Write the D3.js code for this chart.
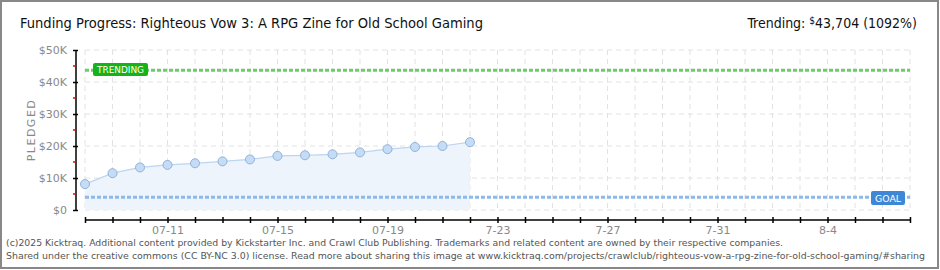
<!DOCTYPE html>
<html lang="en">
<head>
  <meta charset="UTF-8">
  <title>Funding Progress</title>
  <script src="https://d3js.org/d3.v7.min.js"></script>
  <style>
    body { margin: 0; background: #fff; }
    svg { display: block; }
    .title { font-family: "DejaVu Sans Condensed", sans-serif; font-size: 14px; fill: #111; }
    .axis-label { font-family: "DejaVu Sans", sans-serif; font-size: 11px; fill: #888; }
    .foot { font-family: "DejaVu Sans Condensed", sans-serif; font-size: 9px; fill: #555; }
  </style>
</head>
<body>
<svg width="940" height="270"></svg>

<script>
  // days and pledged totals
  const days = ["2025-07-08", "2025-07-09", "2025-07-10", "2025-07-11", "2025-07-12",
                "2025-07-13", "2025-07-14", "2025-07-15", "2025-07-16", "2025-07-17",
                "2025-07-18", "2025-07-19", "2025-07-20", "2025-07-21", "2025-07-22"];
  const pledged = [8100, 11500, 13300, 14100, 14600, 15200, 15800, 16900, 17100, 17400,
                   18000, 19000, 19700, 20000, 21200];
  const goal = 4000;
  const trending = 43704;
  const yTicks = [0, 10000, 20000, 30000, 40000, 50000];
  const xTickDays = ["2025-07-11", "2025-07-15", "2025-07-19", "2025-07-23",
                     "2025-07-27", "2025-07-31", "2025-08-04"];
  const xTickLabels = ["07-11", "07-15", "07-19", "7-23", "7-27", "7-31", "8-4"];

  const parse = d3.timeParse("%Y-%m-%d");
  const svg = d3.select("svg");

  // outer frame
  svg.append("rect")
    .attr("x", 1).attr("y", 1).attr("width", 937).attr("height", 267)
    .attr("fill", "none").attr("stroke", "#888").attr("stroke-width", 2);

  const x = d3.scaleTime()
    .domain([parse("2025-07-08"), parse("2025-08-07")])
    .range([85, 910]);
  const y = d3.scaleLinear().domain([0, 50000]).range([210, 50]);

  // grid
  const allDays = d3.timeDay.range(parse("2025-07-08"), d3.timeDay.offset(parse("2025-08-07"), 1));
  svg.append("g").selectAll("line").data(allDays).join("line")
    .attr("x1", d => x(d)).attr("x2", d => x(d))
    .attr("y1", 50).attr("y2", 210)
    .attr("stroke", "#e2e2e2").attr("stroke-dasharray", "5,4");
  svg.append("g").selectAll("line").data(yTicks).join("line")
    .attr("x1", 85).attr("x2", 910)
    .attr("y1", d => y(d)).attr("y2", d => y(d))
    .attr("stroke", "#e2e2e2").attr("stroke-dasharray", "5,4");

  const pts = days.map((d, i) => ({ date: parse(d), value: pledged[i] }));

  // area + line
  svg.append("path").datum(pts)
    .attr("fill", "#edf4fc")
    .attr("d", d3.area().x(d => x(d.date)).y0(y(0)).y1(d => y(d.value)));
  svg.append("path").datum(pts)
    .attr("fill", "none").attr("stroke", "#bcd5f1").attr("stroke-width", 1.2)
    .attr("d", d3.line().x(d => x(d.date)).y(d => y(d.value)));

  // goal + trending lines
  svg.append("line")
    .attr("x1", 85).attr("x2", 910).attr("y1", y(goal)).attr("y2", y(goal))
    .attr("stroke", "#8fb9e8").attr("stroke-width", 3).attr("stroke-dasharray", "4,2");
  svg.append("line")
    .attr("x1", 85).attr("x2", 910).attr("y1", y(trending)).attr("y2", y(trending))
    .attr("stroke", "#6ccc6c").attr("stroke-width", 3).attr("stroke-dasharray", "4,2");

  // points
  svg.append("g").selectAll("circle").data(pts).join("circle")
    .attr("cx", d => x(d.date)).attr("cy", d => y(d.value)).attr("r", 4.5)
    .attr("fill", "#c4dcf6").attr("stroke", "#93b2d6").attr("stroke-width", 1);

  // y axis
  const yAxis = svg.append("g").attr("transform", "translate(76,0)")
    .call(d3.axisLeft(y).tickValues(yTicks).tickSize(3).tickPadding(6)
      .tickFormat(d => "$" + (d === 0 ? "0" : d / 1000 + "K")));
  yAxis.select(".domain").attr("stroke", "#000").attr("stroke-width", 1.5).attr("d", "M0,50V210");
  yAxis.selectAll(".tick line").attr("stroke", "#000").attr("stroke-width", 1.5).attr("x2", -3).attr("x1", 2);
  yAxis.selectAll(".tick text").attr("class", "axis-label");
  svg.append("g").selectAll("line").data([5000, 15000, 25000, 35000, 45000]).join("line")
    .attr("x1", 73).attr("x2", 76).attr("y1", d => y(d)).attr("y2", d => y(d))
    .attr("stroke", "#e00").attr("stroke-width", 1.5);
  svg.append("text").attr("class", "axis-label")
    .attr("transform", "translate(35,130) rotate(-90)")
    .attr("text-anchor", "middle").attr("font-size", 10).attr("letter-spacing", 1.5)
    .text("PLEDGED");

  // x axis
  const xAxis = svg.append("g").attr("transform", "translate(0,220)")
    .call(d3.axisBottom(x).tickValues(allDays).tickSize(3).tickPadding(3)
      .tickFormat(d => {
        const k = xTickDays.indexOf(d3.timeFormat("%Y-%m-%d")(d));
        return k >= 0 ? xTickLabels[k] : "";
      }));
  xAxis.select(".domain").attr("stroke", "#000").attr("stroke-width", 1.5).attr("d", "M85,0H910");
  xAxis.selectAll(".tick line").attr("stroke", "#000").attr("stroke-width", 1.5).attr("y1", -3).attr("y2", 3);
  xAxis.selectAll(".tick text").attr("class", "axis-label").attr("font-size", 10);

  // badges
  function badge(cx, cy, w, h, fill, label) {
    svg.append("rect").attr("x", cx).attr("y", cy).attr("width", w).attr("height", h)
      .attr("rx", 2).attr("fill", fill);
    svg.append("text").attr("x", cx + 4).attr("y", cy + h / 2 + 3.5)
      .attr("font-family", "DejaVu Sans Condensed, sans-serif").attr("font-size", 9.5)
      .attr("textLength", w - 8).attr("lengthAdjust", "spacingAndGlyphs")
      .attr("fill", "#fff").text(label);
  }
  badge(93, 63, 55, 13, "#16b316", "TRENDING");
  badge(871, 191, 34, 14, "#3d87d6", "GOAL");

  // titles
  svg.append("text").attr("class", "title").attr("x", 20).attr("y", 28)
    .attr("textLength", 463).attr("lengthAdjust", "spacingAndGlyphs")
    .text("Funding Progress: Righteous Vow 3: A RPG Zine for Old School Gaming");
  const tr = svg.append("text").attr("class", "title").attr("x", 917).attr("y", 28)
    .attr("text-anchor", "end");
  tr.append("tspan").text("Trending:  ");
  tr.append("tspan").attr("font-size", 10).attr("dy", -4).text("$");
  tr.append("tspan").attr("dy", 4).text(d3.format(",")(trending) + " (1092%)");

  // footer
  svg.append("text").attr("class", "foot").attr("x", 6).attr("y", 246)
    .attr("textLength", 777).attr("lengthAdjust", "spacingAndGlyphs")
    .text("(c)2025 Kicktraq. Additional content provided by Kickstarter Inc. and Crawl Club Publishing. Trademarks and related content are owned by their respective companies.");
  svg.append("text").attr("class", "foot").attr("x", 6).attr("y", 259)
    .attr("textLength", 919).attr("lengthAdjust", "spacingAndGlyphs")
    .text("Shared under the creative commons (CC BY-NC 3.0) license. Read more about sharing this image at www.kicktraq.com/projects/crawlclub/righteous-vow-a-rpg-zine-for-old-school-gaming/#sharing");
</script>
</body>
</html>
